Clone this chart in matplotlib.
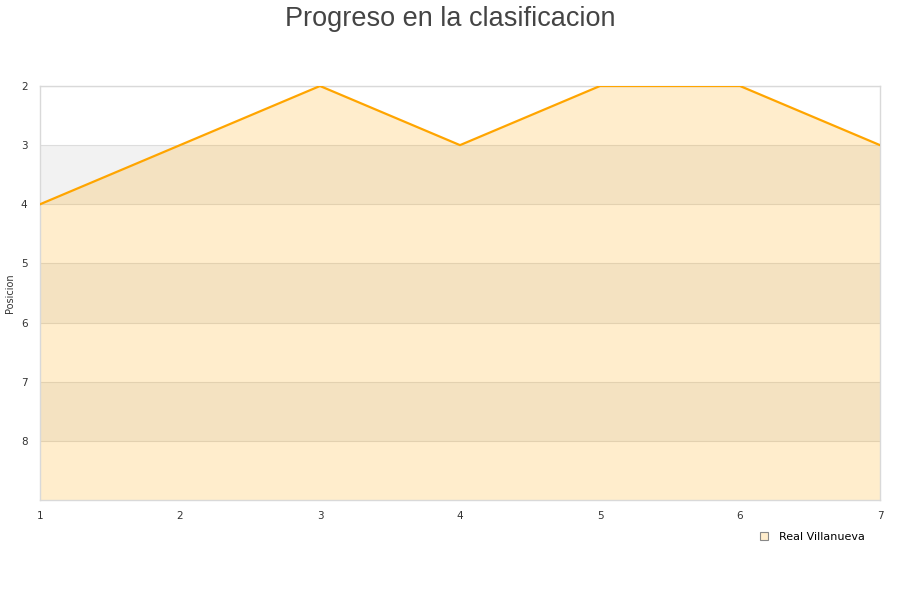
import matplotlib
matplotlib.use('Agg')
import matplotlib.pyplot as plt
from matplotlib.lines import Line2D

# ── Data ─────────────────────────────────────────────────────────────────────
jornadas = [1, 2, 3, 4, 5, 6, 7]
posicion = [4, 3, 2, 3, 2, 2, 3]
team = 'Real Villanueva'
y_ticks = [2, 3, 4, 5, 6, 7, 8]
y_min, y_max = 2, 9

fig = plt.figure(figsize=(9, 6), dpi=100)
ax = fig.add_axes([40 / 900, 1 - 500 / 600, 840 / 900, 414 / 600])

# alternating background bands
for lo in range(y_min, y_max):
    if (lo - y_min) % 2 == 1:
        ax.axhspan(lo, lo + 1, color='#f2f2f2', zorder=0, lw=0)
for yv in y_ticks:
    ax.axhline(yv, color='#dddddd', lw=0.8, zorder=1)

ax.fill_between(jornadas, posicion, y_max, color='#ffa500', alpha=0.2,
                lw=0, zorder=2)
ax.plot(jornadas, posicion, color='#ffa500', lw=1.6, zorder=3)

ax.set_xlim(1, 7)
ax.set_ylim(y_max, y_min)
ax.set_xticks(jornadas)
ax.set_yticks(y_ticks)
ax.tick_params(length=0, labelsize=7.5, colors='#333333', pad=8)
ax.tick_params(axis='y', pad=9)
for s in ax.spines.values():
    s.set_color('#d9d9d9')
    s.set_linewidth(1)

ax.set_ylabel('Posicion', fontsize=7, color='#333333')
ax.yaxis.set_label_coords(-25 / 840, 0.5)
fig.suptitle('Progreso en la clasificacion', fontsize=19.5, color='#444444',
             family='Liberation Sans', y=0.99)

handle = Line2D([], [], marker='s', ls='none', markersize=6,
                markerfacecolor='#ffedcc', markeredgecolor='#888888',
                markeredgewidth=0.8)
fig.legend([handle], [team], loc='center left',
           bbox_to_anchor=(748 / 900, 1 - 537 / 600), frameon=False,
           fontsize=8, handletextpad=0.4, borderaxespad=0)

fig.savefig('out.png', dpi=100)
